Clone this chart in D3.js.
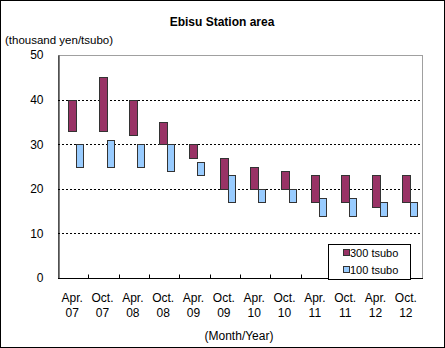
<!DOCTYPE html>
<html>
<head>
<meta charset="utf-8">
<script src="https://cdn.jsdelivr.net/npm/d3@7"></script>
<style>
  html, body { margin: 0; padding: 0; background: #fff; }
  svg { display: block; font-family: "Liberation Sans", Arial, sans-serif; }
</style>
</head>
<body>
<svg id="chart" width="445" height="348"></svg>
<script>
// Period labels (two lines each: month / year)
const months = ["Apr.", "Oct.", "Apr.", "Oct.", "Apr.", "Oct.", "Apr.", "Oct.", "Apr.", "Oct.", "Apr.", "Oct."];
const years  = ["07", "07", "08", "08", "09", "09", "10", "10", "11", "11", "12", "12"];

// Rent ranges, thousand yen per tsubo
const low300  = [33, 33, 32, 30, 27, 20, 20, 20, 17, 17, 16, 17];
const high300 = [40, 45, 40, 35, 30, 27, 25, 24, 23, 23, 23, 23];
const low100  = [25, 25, 25, 24, 23, 17, 17, 17, 14, 14, 14, 14];
const high100 = [30, 31, 30, 30, 26, 23, 20, 20, 18, 18, 17, 17];

const yTicks = [0, 10, 20, 30, 40, 50];
const seriesNames = ["300 tsubo", "100 tsubo"];
const seriesColors = ["#993366", "#99ccff"];

const svg = d3.select("#chart");
const W = 445, H = 348;
const plot = { left: 58, right: 422, top: 55, bottom: 278 };

// outer frame
svg.append("rect")
  .attr("x", 0.5).attr("y", 0.5)
  .attr("width", W - 1).attr("height", H - 1)
  .attr("fill", "#fff").attr("stroke", "#000");

const keys = months.map((m, i) => i);
const x = d3.scaleBand().domain(keys).range([plot.left, plot.right]);
const y = d3.scaleLinear().domain([0, 50]).range([plot.bottom, plot.top]);

// plot frame (top and right, light grey)
svg.append("rect")
  .attr("x", plot.left + 0.5).attr("y", plot.top + 0.5)
  .attr("width", plot.right - plot.left).attr("height", plot.bottom - plot.top)
  .attr("fill", "none").attr("stroke", "#a0a0a0");

// dashed gridlines
svg.append("g")
  .selectAll("line")
  .data(yTicks.filter(t => t > 0 && t < 50))
  .join("line")
  .attr("x1", plot.left).attr("x2", plot.right)
  .attr("y1", d => Math.round(y(d)) + 0.5).attr("y2", d => Math.round(y(d)) + 0.5)
  .attr("stroke", "#000").attr("stroke-dasharray", "2,2");

// y axis
const yAxis = d3.axisLeft(y).tickValues(yTicks).tickSize(0).tickPadding(15);
const gy = svg.append("g")
  .attr("transform", `translate(${plot.left + 0.5},0)`)
  .call(yAxis);
gy.select(".domain").attr("stroke", "#000");
gy.selectAll("text").attr("font-size", 12).attr("fill", "#000");

// x axis with inside ticks at category boundaries
const gx = svg.append("g")
  .attr("transform", `translate(0,${plot.bottom + 0.5})`);
gx.append("line")
  .attr("x1", plot.left).attr("x2", plot.right + 1)
  .attr("stroke", "#000");
gx.selectAll("line.tick")
  .data(keys.slice(1))
  .join("line")
  .attr("class", "tick")
  .attr("x1", d => Math.round(x(d)) + 0.5).attr("x2", d => Math.round(x(d)) + 0.5)
  .attr("y1", 0).attr("y2", -4)
  .attr("stroke", "#000");

const labels = svg.append("g").attr("font-size", 12).attr("fill", "#000").attr("text-anchor", "middle");
keys.forEach(i => {
  const cx = x(i) + x.bandwidth() / 2 - 1;
  labels.append("text").attr("x", cx).attr("y", 302).text(months[i]);
  labels.append("text").attr("x", cx).attr("y", 317).text(years[i]);
});

// floating range bars
const wide300 = 8, wide100 = 7;
const split = i => Math.round(x(i) + x.bandwidth() / 2 + 3);
const bars = svg.append("g").attr("stroke", "#333").attr("stroke-width", 1);
bars.selectAll("rect.s300")
  .data(keys)
  .join("rect")
  .attr("class", "s300")
  .attr("x", i => split(i) - wide300 + 0.5)
  .attr("width", wide300)
  .attr("y", i => Math.round(y(high300[i])) + 0.5)
  .attr("height", i => Math.round(y(low300[i])) - Math.round(y(high300[i])))
  .attr("fill", seriesColors[0]);
bars.selectAll("rect.s100")
  .data(keys)
  .join("rect")
  .attr("class", "s100")
  .attr("x", i => split(i) + 0.5)
  .attr("width", wide100)
  .attr("y", i => Math.round(y(high100[i])) + 0.5)
  .attr("height", i => Math.round(y(low100[i])) - Math.round(y(high100[i])))
  .attr("fill", seriesColors[1]);

// legend
const lg = svg.append("g");
lg.append("rect")
  .attr("x", 328.5).attr("y", 244.5).attr("width", 82).attr("height", 35)
  .attr("fill", "#fff").attr("stroke", "#000");
seriesNames.forEach((name, k) => {
  const ly = 253 + k * 17;
  lg.append("rect")
    .attr("x", 343.5).attr("y", ly - 3.5).attr("width", 6).attr("height", 6)
    .attr("fill", seriesColors[k]).attr("stroke", "#333");
  lg.append("text")
    .attr("x", 350).attr("y", ly + 4)
    .attr("font-size", 11).attr("fill", "#000")
    .text(name);
});

// titles
svg.append("text")
  .attr("x", 222).attr("y", 26)
  .attr("text-anchor", "middle").attr("font-size", 12).attr("font-weight", "bold")
  .text("Ebisu Station area");
svg.append("text")
  .attr("x", 5).attr("y", 44)
  .attr("font-size", 11.5)
  .text("(thousand yen/tsubo)");
svg.append("text")
  .attr("x", 239).attr("y", 340)
  .attr("text-anchor", "middle").attr("font-size", 12)
  .text("(Month/Year)");
</script>
</body>
</html>
